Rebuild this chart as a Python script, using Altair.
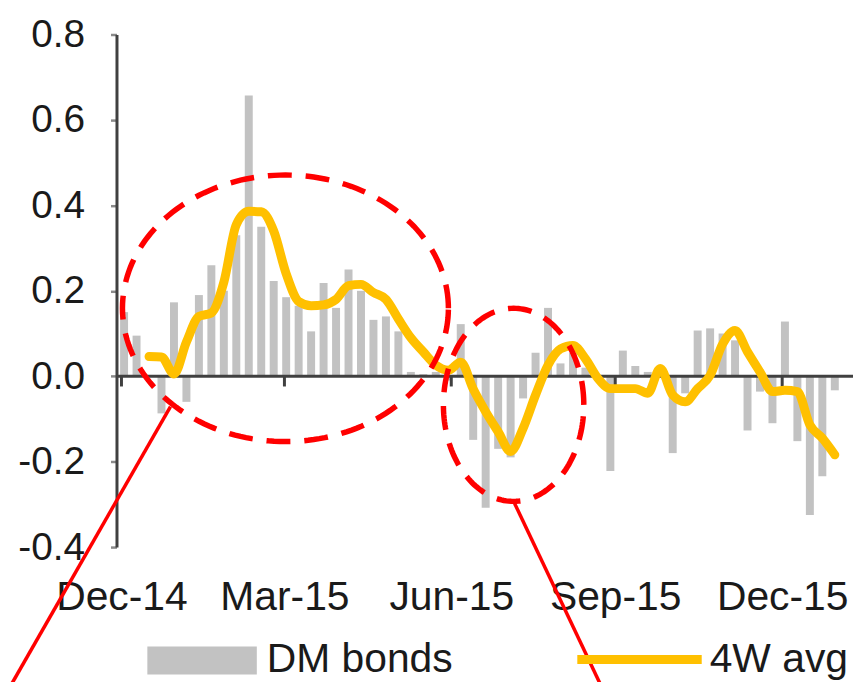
import altair as alt
import pandas as pd
import numpy as np

# ---- data ----
dm_bonds = [0.15, 0.095, 0.0, -0.087, 0.173, -0.06, 0.19, 0.26, 0.2, 0.33,
            0.657, 0.35, 0.223, 0.185, 0.165, 0.105, 0.218, 0.16, 0.25, 0.2,
            0.132, 0.14, 0.105, 0.01, 0.005, 0.01, -0.01, 0.122, -0.149, -0.308,
            -0.17, -0.19, -0.052, 0.055, 0.16, 0.03, 0.055, 0.02, -0.01, -0.222,
            0.06, 0.024, 0.01, 0.015, -0.18, -0.04, 0.107, 0.112, 0.1, 0.084,
            -0.127, -0.036, -0.11, 0.128, -0.152, -0.325, -0.234, -0.033]
avg_4w = [None, None, 0.046, 0.045, 0.005, 0.08, 0.14, 0.148, 0.22, 0.355,
          0.386, 0.385, 0.34, 0.24, 0.175, 0.165, 0.167, 0.18, 0.212, 0.215,
          0.196, 0.18, 0.134, 0.09, 0.057, 0.026, 0.014, 0.033, -0.03, -0.083,
          -0.13, -0.176, -0.122, -0.044, 0.026, 0.064, 0.072, 0.041, -0.005, -0.029,
          -0.029, -0.029, -0.04, 0.018, -0.044, -0.06, -0.029, 0.002, 0.075, 0.107,
          0.057, 0.01, -0.036, -0.033, -0.036, -0.114, -0.145, -0.184]
series_names = ["DM bonds", "4W avg"]
month_labels = ["Dec-14", "Mar-15", "Jun-15", "Sep-15", "Dec-15"]
month_pos = [-0.21, 12.86, 26.24, 39.39, 52.78]   # week-index position of month starts
y_ticks = [-0.4, -0.2, 0.0, 0.2, 0.4, 0.6, 0.8]

# annotation shapes (in data units: week index / value)
ell_cx = [12.94, 31.24]
ell_cy = [0.159, -0.067]
ell_rx = [13.07, 5.63]
ell_ry = [0.312, 0.226]
link_x = [3.72, 31.32]
link_y = [-0.071, -0.2977]
link_x2 = [-9.4, 38.5]
link_y2 = [-0.74, -0.74]

FONT = "Liberation Sans"
FS_Y = 39
FS_X = 41
GREY = "#c2c2c2"
GOLD = "#FFC000"
RED = "#FF0000"
TXT = "#1a1a1a"

XDOM = [-0.21, 58.06]
YDOM = [-0.4, 0.8]

weeks = list(range(len(dm_bonds)))
bars_df = pd.DataFrame({"week": weeks, "value": dm_bonds})
line_df = pd.DataFrame({"week": weeks, "value": avg_4w}).dropna()
ticks_df = pd.DataFrame({"pos": month_pos})

# ellipse outlines
rows = []
t = np.linspace(0, 2 * np.pi, 181)
for k in range(len(ell_cx)):
    for j, a in enumerate(t):
        rows.append({"id": k, "k": j,
                     "x": ell_cx[k] + ell_rx[k] * np.cos(a),
                     "y": ell_cy[k] + ell_ry[k] * np.sin(a)})
ell_df = pd.DataFrame(rows)
link_df = pd.DataFrame({"x": link_x, "y": link_y, "x2": link_x2, "y2": link_y2})

# label expression for months
expr = "''"
for p, lab in reversed(list(zip(month_pos, month_labels))):
    expr = f"abs(datum.value - ({p})) < 0.5 ? '{lab}' : " + expr

xscale = alt.Scale(domain=XDOM, nice=False, zero=False)
yscale = alt.Scale(domain=YDOM, nice=False, zero=False)

x_axis = alt.Axis(values=month_pos, labelExpr=expr, ticks=False, domain=False,
                  grid=False, labelPadding=31, labelFontSize=FS_X, labelFont=FONT,
                  labelColor=TXT, labelOverlap=False, labelFlush=False, title=None)
y_axis = alt.Axis(values=y_ticks,
                  labelExpr="(datum.value < -0.001 ? '-' : '') + format(abs(datum.value), '.1f')",
                  grid=False, tickSize=6, tickWidth=2.5, tickColor="#8a8a8a",
                  domainColor="#404040", domainWidth=3, labelPadding=26,
                  labelFontSize=FS_Y, labelFont=FONT, labelColor=TXT, title=None)

bars = alt.Chart(bars_df).mark_bar(color=GREY, width=8).encode(
    x=alt.X("week:Q", scale=xscale, axis=x_axis),
    y=alt.Y("value:Q", scale=yscale, axis=y_axis),
)

zero = alt.Chart(pd.DataFrame({"v": [0.0]})).mark_rule(color="#404040", strokeWidth=3).encode(
    y=alt.Y("v:Q", scale=yscale)
)

xticks = alt.Chart(ticks_df).mark_rule(color="#404040", strokeWidth=3).encode(
    x=alt.X("pos:Q", scale=xscale),
    y=alt.datum(0.0),
    y2=alt.datum(-0.024),
)

avg_line = alt.Chart(line_df).mark_line(color=GOLD, strokeWidth=9, interpolate="monotone",
                                        strokeCap="round", strokeJoin="round").encode(
    x=alt.X("week:Q", scale=xscale),
    y=alt.Y("value:Q", scale=yscale),
)

ellipses = alt.Chart(ell_df).mark_line(color=RED, strokeWidth=5.5, strokeDash=[24, 14],
                                       clip=False).encode(
    x=alt.X("x:Q", scale=xscale),
    y=alt.Y("y:Q", scale=yscale),
    detail="id:N",
    order="k:Q",
)

links = alt.Chart(link_df).mark_rule(color=RED, strokeWidth=3.5, clip=False).encode(
    x=alt.X("x:Q", scale=xscale), y=alt.Y("y:Q", scale=yscale),
    x2="x2:Q", y2="y2:Q",
)

# legend (manual, below plot)
leg_df = pd.DataFrame({"name": series_names})
leg_rect = alt.Chart(leg_df.iloc[[0]]).mark_rect(color=GREY, clip=False).encode(
    x=alt.value(31), x2=alt.value(141), y=alt.value(615), y2=alt.value(643))
leg_line = alt.Chart(leg_df.iloc[[1]]).mark_rule(color=GOLD, strokeWidth=9, clip=False).encode(
    x=alt.value(463), x2=alt.value(588), y=alt.value(628))
leg_text1 = alt.Chart(leg_df.iloc[[0]]).mark_text(
    align="left", baseline="alphabetic", fontSize=FS_X, font=FONT, color=TXT, clip=False).encode(
    x=alt.value(151), y=alt.value(641), text="name:N")
leg_text2 = alt.Chart(leg_df.iloc[[1]]).mark_text(
    align="left", baseline="alphabetic", fontSize=FS_X, font=FONT, color=TXT, clip=False).encode(
    x=alt.value(596), y=alt.value(641), text="name:N")

chart = alt.layer(bars, zero, xticks, avg_line, ellipses, links,
                  leg_rect, leg_line, leg_text1, leg_text2).properties(
    width=740, height=515,
    padding={"left": 109, "top": 25, "right": 0, "bottom": 150},
    autosize=alt.AutoSizeParams(type="none"),
    background="white",
).configure_view(strokeWidth=0)

chart.save("out.html", embed_options={"renderer": "svg", "actions": False})
